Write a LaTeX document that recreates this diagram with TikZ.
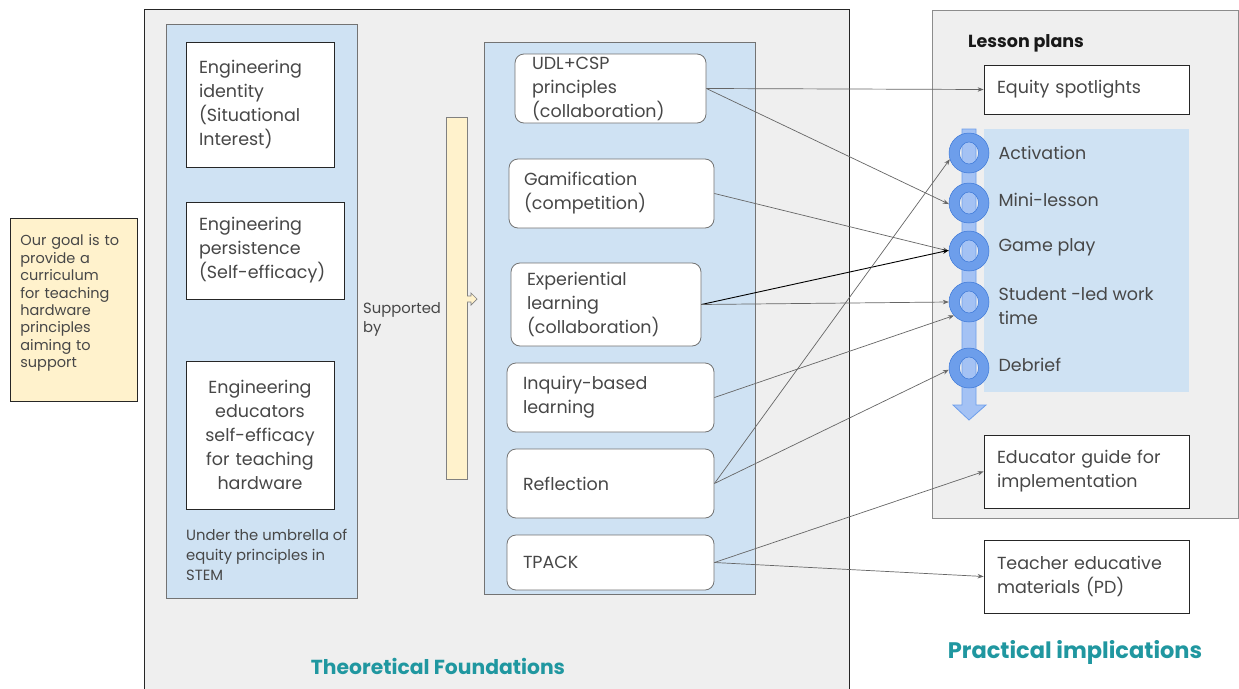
\documentclass[tikz,border=0pt]{standalone}
\usepackage{fontspec}
\setmainfont{Poppins}
\usetikzlibrary{arrows.meta}
\definecolor{bgray}{HTML}{EFEFEF}
\definecolor{pblue}{HTML}{CFE2F3}
\definecolor{pyellow}{HTML}{FFF2CC}
\definecolor{txt}{HTML}{474747}
\definecolor{ringc}{HTML}{6D9EEB}
\definecolor{ringd}{HTML}{3C78D8}
\definecolor{barb}{HTML}{A4C2F4}
\definecolor{tealc}{HTML}{2097A0}
\definecolor{edgec}{HTML}{666666}
\begin{document}
\begin{tikzpicture}[x=1pt,y=-1pt,
  every node/.style={text=txt},
  sqbox/.style={draw=black!85, fill=white, line width=0.8pt, align=left, inner ysep=2pt,
     font=\fontsize{17.5}{24}\selectfont},
  rndbox/.style={draw=black!55, fill=white, line width=0.8pt, rounded corners=9pt, align=left, inner ysep=0pt,
     font=\fontsize{17.5}{24}\selectfont},
  steplbl/.style={anchor=west, align=left, font=\fontsize{17.5}{24}\selectfont},
  ringnode/.style={circle, minimum size=40pt, inner sep=0pt},
  conn/.style={draw=edgec, line width=0.7pt, -{Stealth[length=6pt,width=4.5pt]}},
  title/.style={text=tealc, font=\fontsize{20.3}{24}\selectfont\bfseries}
]
\useasboundingbox (0,0) rectangle (1239,688);
\fill[white] (0,0) rectangle (1239,688);

% containers
\draw[draw=black!85, fill=bgray, line width=0.8pt] (144,9) rectangle (849,700);
\draw[draw=black!45, fill=bgray, line width=0.8pt] (932,10) rectangle (1238,518);
\draw[draw=black!55, fill=pblue, line width=0.8pt] (166,24) rectangle (357,598);
\draw[draw=black!55, fill=pblue, line width=0.8pt] (484,42) rectangle (755,594);
\fill[pblue] (984,129) rectangle (1189,392);

% goal note
\node[draw=black!85, fill=pyellow, line width=0.8pt, minimum width=127pt, minimum height=183pt,
      text width=107pt, inner xsep=10pt, align=left, anchor=north west, inner ysep=4pt,
      font=\fontsize{14.5}{17.4}\selectfont] (goal) at (10,218)
  {Our goal is to\\provide a\\curriculum\\for teaching\\hardware\\principles\\aiming to\\support\\\mbox{}};

% left column
\node[sqbox, text width=122pt, inner xsep=13pt, minimum height=125pt] (ident) at (260,104.5)
  {Engineering\\identity\\(Situational\\Interest)};
\node[sqbox, text width=132pt, inner xsep=13pt, minimum height=97pt] (pers) at (265,250.5)
  {Engineering\\persistence\\(Self-efficacy)};
\node[sqbox, text width=140pt, inner xsep=4pt, minimum height=148pt, align=center] (educ) at (260,435)
  {Engineering\\educators\\self-efficacy\\for teaching\\hardware};
\node[anchor=north west, align=left, inner sep=0pt, font=\fontsize{14.8}{20}\selectfont] (umb) at (186,529)
  {Under the umbrella of\\equity principles in\\STEM};

% supported by
\node[anchor=west, align=left, inner sep=0pt, font=\fontsize{14.8}{19}\selectfont] (sup) at (363,319)
  {Supported\\by};
\draw[draw=black!50, fill=pyellow, line width=0.8pt] (446,117) rectangle (467,479);
\draw[draw=black!50, fill=pyellow, line width=0.7pt]
  (467,296) -- (471,296) -- (471,293) -- (477,299) -- (471,305) -- (471,302) -- (467,302);

% middle column
\node[rndbox, text width=157pt, inner xsep=17pt, minimum height=69pt] (udl) at (610.5,88.5)
  {UDL+CSP\\principles\\(collaboration)};
\node[rndbox, text width=175pt, inner xsep=15pt, minimum height=69pt] (gam) at (611.5,193.5)
  {Gamification\\(competition)};
\node[rndbox, text width=158pt, inner xsep=16pt, minimum height=83pt] (exp) at (606,304.5)
  {Experiential\\learning\\(collaboration)};
\node[rndbox, text width=175pt, inner xsep=16pt, minimum height=69pt] (inq) at (610.5,397.5)
  {Inquiry-based\\learning};
\node[rndbox, text width=175pt, inner xsep=16pt, minimum height=69pt] (refl) at (610.5,483.5)
  {Reflection};
\node[rndbox, text width=175pt, inner xsep=16pt, minimum height=55pt] (tpack) at (610.5,562.5)
  {TPACK};

% right side
\node[anchor=west, inner sep=0pt, font=\fontsize{17.5}{20}\selectfont\bfseries, text=black!90] (lp) at (968,43) {Lesson plans};
\node[sqbox, text width=179pt, inner xsep=13pt, minimum height=49pt] (eq) at (1086.5,89.5) {Equity spotlights};
\node[sqbox, text width=179pt, inner xsep=13pt, minimum height=73pt] (guide) at (1086.5,471.5)
  {Educator guide for\\implementation};
\node[sqbox, text width=179pt, inner xsep=13pt, minimum height=73pt] (teach) at (1086.5,576.5)
  {Teacher educative\\materials (PD)};

% vertical arrow bar
\draw[fill=barb, draw=ringc, line width=0.8pt]
  (962,129) -- (976,129) -- (976,405) -- (986,405) -- (969,420) -- (953,405) -- (962,405) -- cycle;

% rings
\foreach \n/\yy in {c1/153, c2/203, c3/251, c4/302, c5/368} {
  \node[ringnode] (\n) at (969,\yy) {};
  \fill[ringc, draw=ringd, line width=0.5pt, even odd rule]
    (\n.center) circle[radius=20] (\n.center) ellipse[x radius=9.5, y radius=11];
}
\node[steplbl] (l1) at (995,153) {Activation};
\node[steplbl] (l2) at (995,200) {Mini-lesson};
\node[steplbl] (l3) at (995,247) {Game play};
\node[steplbl] (l4) at (995,306) {Student -led work\\time};
\node[steplbl] (l5) at (995,365) {Debrief};

% connectors
\draw[conn] (udl.east) -- (eq.west);
\draw[conn] (udl.east) -- (c2.183);
\draw[conn] (gam.east) -- (c3.180);
\draw[draw=black, line width=0.9pt, -{Stealth[length=6pt,width=4.5pt]}] (exp.east) -- (c3.178);
\draw[conn] (exp.east) -- (c4.180);
\draw[conn] (inq.east) -- (c4.222);
\draw[conn] (refl.east) -- (c1.198);
\draw[conn] (refl.east) -- (c5.185);
\draw[conn] (tpack.east) -- (guide.west);
\draw[conn] (tpack.east) -- (teach.west);

% titles
\node[title] (tf) at (438,666) {Theoretical Foundations};
\node[title, font=\fontsize{22.5}{26}\selectfont\bfseries] (pi) at (1075,652) {Practical implications};
\end{tikzpicture}
\end{document}
